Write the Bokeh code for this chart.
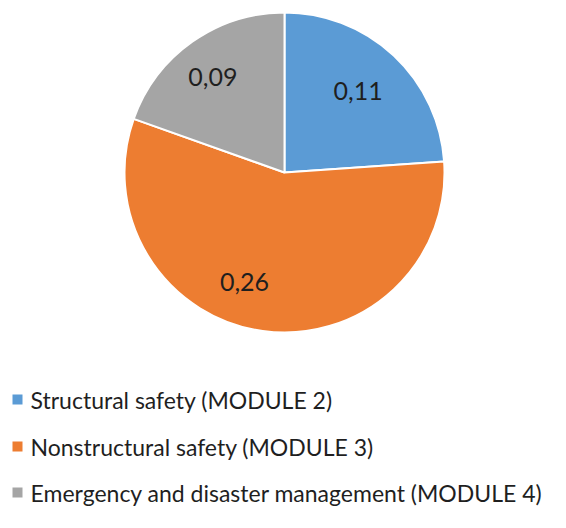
import math
from bokeh.plotting import figure
from bokeh.models import Range1d, ColumnDataSource
from bokeh.core.properties import value
from bokeh.embed import file_html
from bokeh.resources import INLINE

# ---- data ----
categories = ["Structural safety (MODULE 2)",
              "Nonstructural safety (MODULE 3)",
              "Emergency and disaster management (MODULE 4)"]
values = [0.11, 0.26, 0.09]
value_labels = ["0,11", "0,26", "0,09"]
colors = ["#5B9BD5", "#ED7D31", "#A5A5A5"]

# ---- layout constants (pixels) ----
W, H = 550, 512
CX, CY = 284, H - 172     # pie centre in data coords (1 unit = 1 px)
R = 160
label_angle_deg = [48, -110, 127]
label_dist = [110, 117, 119]
legend_y = [H - 399, H - 446, H - 492]
FONT = "Lato"

total = sum(values)
starts, ends = [], []
a = math.pi / 2
for v in values:
    starts.append(a)
    a = a - 2 * math.pi * v / total
    ends.append(a)

p = figure(width=W, height=H, x_range=Range1d(0, W), y_range=Range1d(0, H),
           output_backend="svg", toolbar_location=None, min_border=0)
p.axis.visible = False
p.grid.visible = False
p.outline_line_color = None

src = ColumnDataSource(dict(start=starts, end=ends, color=colors))
p.wedge(x=CX, y=CY, radius=R, start_angle="start", end_angle="end",
        direction="clock", fill_color="color", line_color="white",
        line_width=2, source=src)

lx = [CX + d * math.cos(math.radians(t)) for d, t in zip(label_dist, label_angle_deg)]
ly = [CY + d * math.sin(math.radians(t)) for d, t in zip(label_dist, label_angle_deg)]
p.text(x=lx, y=ly, text=value_labels, text_align="center", text_baseline="middle",
       text_font=value(FONT), text_font_size="25px", text_color="#1f1f1f")

# legend
p.rect(x=[17] * 3, y=legend_y, width=10, height=10, fill_color=colors, line_color=None)
p.text(x=[30] * 3, y=legend_y, text=categories, text_align="left", text_baseline="middle",
       text_font=value(FONT), text_font_size="23px", text_color="#1f1f1f")

open("out.html", "w").write(file_html(p, INLINE))
